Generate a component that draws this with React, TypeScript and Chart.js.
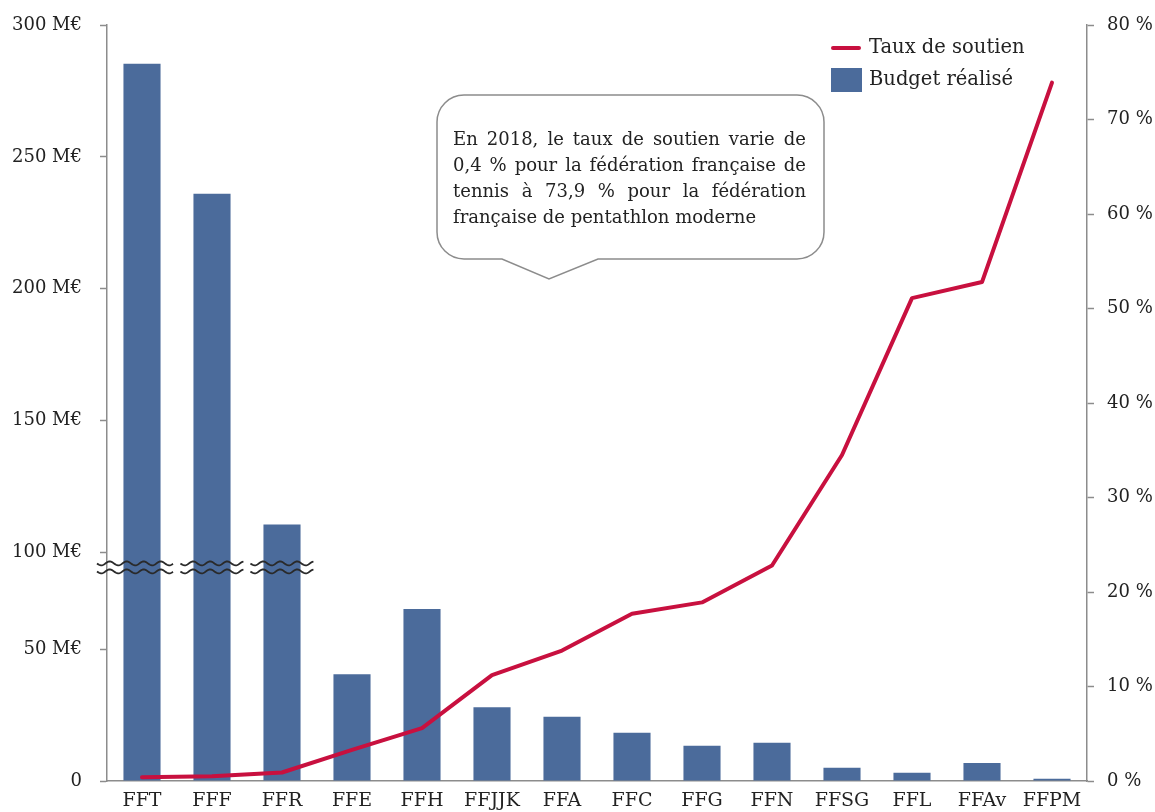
import React, { useEffect, useRef } from 'react';
import { Chart, registerables } from 'chart.js';

Chart.register(...registerables);

// ---------- data ----------
const categories = ['FFT', 'FFF', 'FFR', 'FFE', 'FFH', 'FFJJK', 'FFA', 'FFC', 'FFG', 'FFN', 'FFSG', 'FFL', 'FFAv', 'FFPM'];
const budgetMEUR = [285.3, 236, 110.6, 40.5, 65.2, 28.0, 24.4, 18.3, 13.4, 14.5, 5.0, 3.1, 6.8, 0.9];
const supportRatePct = [0.4, 0.5, 0.9, 3.3, 5.6, 11.2, 13.8, 17.7, 18.9, 22.8, 34.5, 51.1, 52.8, 73.9];
const budgetTicks = [0, 50, 100, 150, 200, 250, 300];
const rateTicks = [0, 10, 20, 30, 40, 50, 60, 70, 80];
const seriesLabels = ['Taux de soutien', 'Budget réalisé'];
const calloutLines = [
  'En 2018, le taux de soutien varie de',
  '0,4 % pour la fédération française de',
  'tennis à 73,9 % pour la fédération',
  'française de pentathlon moderne',
];

// broken axis: values above BREAK_FROM are drawn shifted down by BREAK_GAP
const BREAK_FROM = 94;
const BREAK_GAP = 13.3;
const BREAK_MARK = 81;
const brk = (v: number) => (v > BREAK_FROM ? v - BREAK_GAP : v);

const FONT = "'DejaVu Serif', serif";
const TEXT = '#222222';
const AXIS = '#8c8c8c';
const BAR = '#4b6b9b';
const LINE = '#c8103f';

const wave = (ctx: CanvasRenderingContext2D, x0: number, x1: number, y: number) => {
  ctx.beginPath();
  const period = 17;
  const amp = 2;
  for (let x = x0; x <= x1; x += 1) {
    const yy = y + amp * Math.sin(((x - x0) / period) * Math.PI * 2);
    if (x === x0) ctx.moveTo(x, yy);
    else ctx.lineTo(x, yy);
  }
  ctx.stroke();
};

const breakPlugin = {
  id: 'axisBreak',
  afterDatasetsDraw(chart: any) {
    const ctx = chart.ctx as CanvasRenderingContext2D;
    const y = chart.scales.y.getPixelForValue(BREAK_MARK);
    const meta = chart.getDatasetMeta(1);
    ctx.save();
    ctx.strokeStyle = '#2a2a2a';
    ctx.lineWidth = 1.8;
    const spans: [number, number][] = [];
    meta.data.forEach((bar: any, i: number) => {
      if (budgetMEUR[i] > BREAK_FROM) {
        const w = bar.width;
        const a = i === 0 ? chart.chartArea.left - 10 : bar.x - w / 2 - 13;
        spans.push([a, bar.x + w / 2 + 13]);
      }
    });
    spans.forEach(([a, b]) => {
      wave(ctx, a, b, y - 4);
      wave(ctx, a, b, y + 4);
    });
    ctx.restore();
  },
};

const legendPlugin = {
  id: 'customLegend',
  afterDraw(chart: any) {
    const ctx = chart.ctx as CanvasRenderingContext2D;
    ctx.save();
    ctx.strokeStyle = LINE;
    ctx.lineWidth = 4;
    ctx.lineCap = 'round';
    ctx.beginPath();
    ctx.moveTo(833, 48);
    ctx.lineTo(859, 48);
    ctx.stroke();
    ctx.fillStyle = BAR;
    ctx.fillRect(831, 68, 31, 24);
    ctx.fillStyle = TEXT;
    ctx.font = `19.5px ${FONT}`;
    ctx.textBaseline = 'middle';
    ctx.textAlign = 'left';
    ctx.fillText(chart.data.datasets[0].label, 869, 48);
    ctx.fillText(chart.data.datasets[1].label, 869, 80);
    ctx.restore();
  },
};

const calloutPlugin = {
  id: 'callout',
  afterDraw(chart: any) {
    const ctx = chart.ctx as CanvasRenderingContext2D;
    const L = 437, T = 95, R = 824, B = 259, r = 27;
    const pL = 502, pR = 598, pX = 549, pY = 279;
    ctx.save();
    ctx.beginPath();
    ctx.moveTo(L + r, T);
    ctx.lineTo(R - r, T);
    ctx.arcTo(R, T, R, T + r, r);
    ctx.lineTo(R, B - r);
    ctx.arcTo(R, B, R - r, B, r);
    ctx.lineTo(pR, B);
    ctx.lineTo(pX, pY);
    ctx.lineTo(pL, B);
    ctx.lineTo(L + r, B);
    ctx.arcTo(L, B, L, B - r, r);
    ctx.lineTo(L, T + r);
    ctx.arcTo(L, T, L + r, T, r);
    ctx.closePath();
    ctx.fillStyle = '#ffffff';
    ctx.fill();
    ctx.strokeStyle = AXIS;
    ctx.lineWidth = 1.5;
    ctx.stroke();

    ctx.fillStyle = TEXT;
    ctx.font = `18px ${FONT}`;
    ctx.textBaseline = 'middle';
    ctx.textAlign = 'left';
    const x0 = 453, x1 = 806;
    calloutLines.forEach((line, i) => {
      const y = 140 + i * 26;
      if (i === calloutLines.length - 1) {
        ctx.fillText(line, x0, y);
        return;
      }
      const words = line.split(' ');
      const widths = words.map((w) => ctx.measureText(w).width);
      const total = widths.reduce((a, b) => a + b, 0);
      const gap = (x1 - x0 - total) / (words.length - 1);
      let x = x0;
      words.forEach((w, j) => {
        ctx.fillText(w, x, y);
        x += widths[j] + gap;
      });
    });
    ctx.restore();
  },
};

const noVerticalPadding = (s: any) => {
  s.paddingTop = 0;
  s.paddingBottom = 0;
};

export default function App() {
  const ref = useRef<HTMLCanvasElement | null>(null);

  useEffect(() => {
    if (!ref.current) return;
    Chart.defaults.font.family = FONT;
    const chart = new Chart(ref.current, {
      type: 'bar',
      data: {
        labels: categories,
        datasets: [
          {
            type: 'line',
            label: seriesLabels[0],
            data: supportRatePct,
            yAxisID: 'y1',
            borderColor: LINE,
            backgroundColor: LINE,
            borderWidth: 4,
            pointRadius: 0,
            tension: 0,
            borderJoinStyle: 'round',
            borderCapStyle: 'round',
            order: 0,
          } as any,
          {
            type: 'bar',
            label: seriesLabels[1],
            data: budgetMEUR.map(brk),
            yAxisID: 'y',
            backgroundColor: BAR,
            barPercentage: 0.53,
            categoryPercentage: 1,
            order: 1,
          } as any,
        ],
      },
      options: {
        responsive: false,
        animation: false,
        layout: { padding: { top: 25, bottom: 0, left: 0, right: 0 } },
        plugins: {
          legend: { display: false },
          tooltip: { enabled: false },
        },
        scales: {
          x: {
            grid: { display: false, drawTicks: false },
            border: { color: AXIS, width: 1.5 },
            ticks: { color: TEXT, font: { size: 19, family: FONT }, padding: 9, maxRotation: 0, autoSkip: false },
            afterFit: (s: any) => { s.height = 31; },
          },
          y: {
            position: 'left',
            min: 0,
            max: brk(300),
            afterBuildTicks: (s: any) => { s.ticks = budgetTicks.map((v) => ({ value: brk(v) })); },
            ticks: {
              color: TEXT,
              font: { size: 18, family: FONT },
              padding: 18,
              callback: (_v: any, i: number) => (budgetTicks[i] === 0 ? '0' : `${budgetTicks[i]} M€`),
            },
            grid: { drawOnChartArea: false, tickLength: 7, tickColor: AXIS, tickWidth: 1.5 },
            border: { color: AXIS, width: 1.5 },
            afterFit: (s: any) => { s.width = 107; noVerticalPadding(s); },
          },
          y1: {
            position: 'right',
            min: 0,
            max: 80,
            afterBuildTicks: (s: any) => { s.ticks = rateTicks.map((v) => ({ value: v })); },
            ticks: {
              color: TEXT,
              font: { size: 18, family: FONT },
              padding: 13,
              callback: (v: any) => `${v} %`,
            },
            grid: { drawOnChartArea: false, tickLength: 7, tickColor: AXIS, tickWidth: 1.5 },
            border: { color: AXIS, width: 1.5 },
            afterFit: (s: any) => { s.width = 68; noVerticalPadding(s); },
          },
        },
      } as any,
      plugins: [breakPlugin, legendPlugin, calloutPlugin],
    });
    return () => chart.destroy();
  }, []);

  return (
    <div style={{ position: 'absolute', left: 0, top: 0, width: 1155, height: 812, background: '#fff' }}>
      <canvas ref={ref} width={1155} height={812} style={{ display: 'block' }} />
    </div>
  );
}
